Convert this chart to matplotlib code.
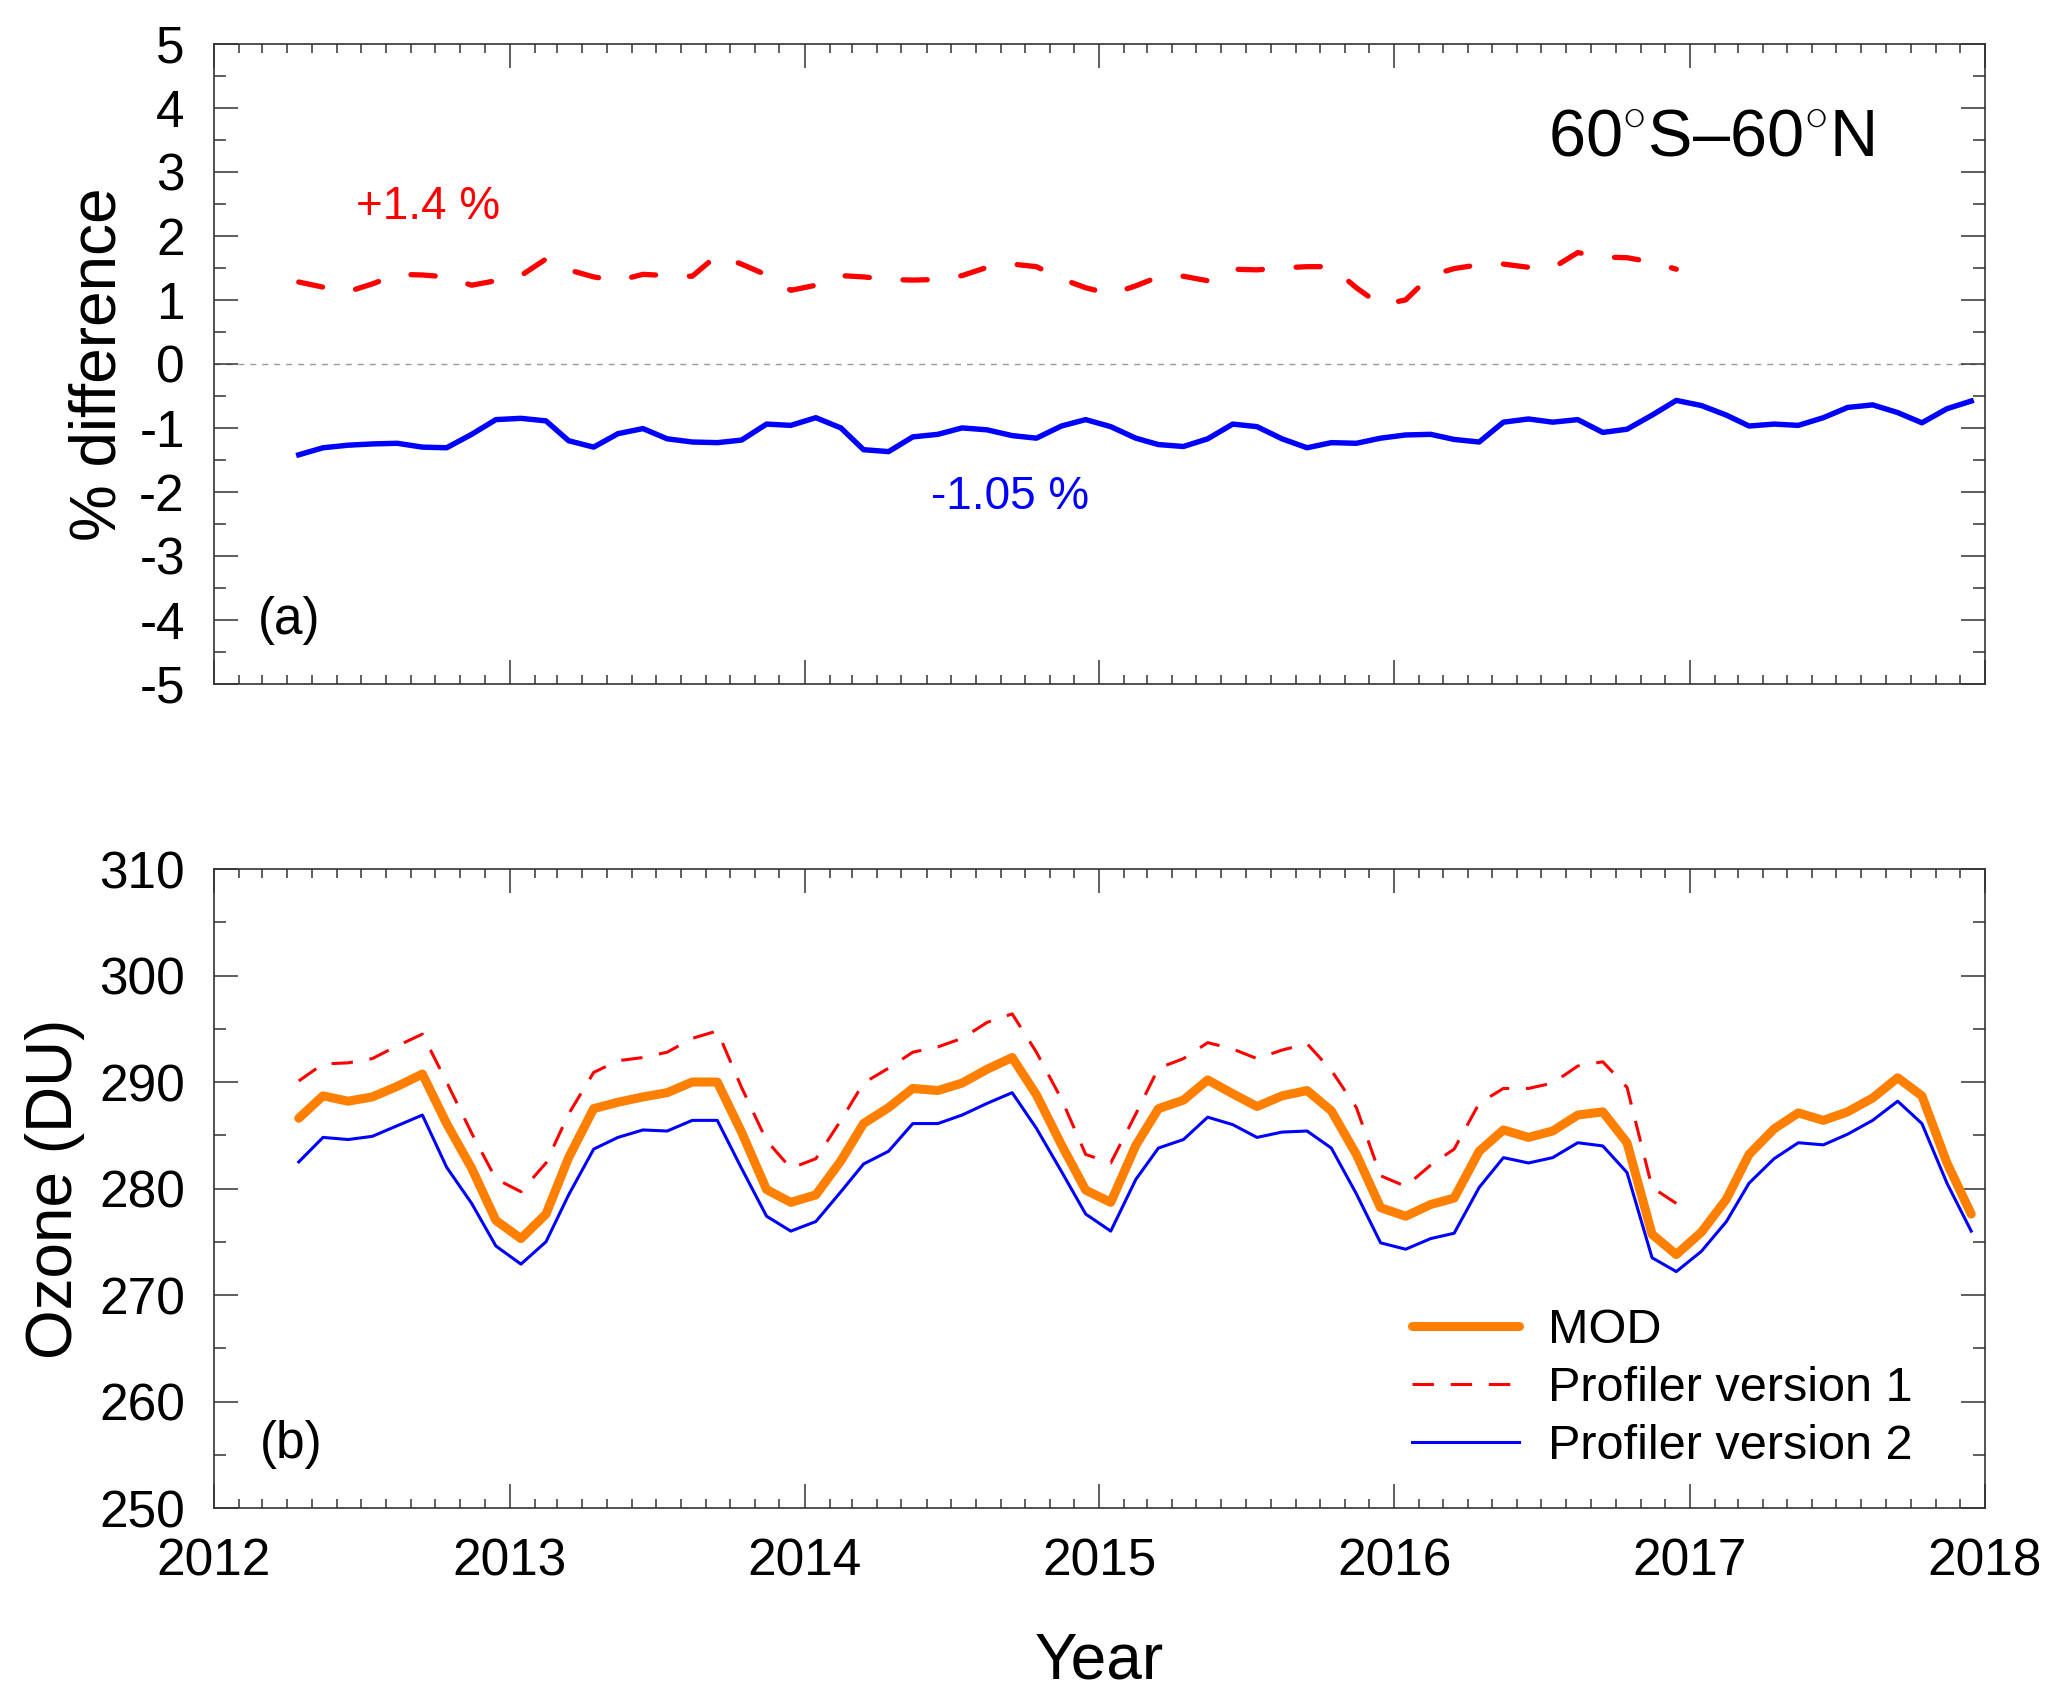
import numpy as np
import pandas as pd
import matplotlib
matplotlib.use('Agg')
import matplotlib.pyplot as plt
import matplotlib.dates as mdates

plt.rcParams['font.family'] = ['Liberation Sans', 'DejaVu Sans']
plt.rcParams['mathtext.fontset'] = 'custom'
plt.rcParams['mathtext.rm'] = 'Liberation Sans'
plt.rcParams['axes.unicode_minus'] = False

# monthly values, April 2012 onwards
pct_v1 = [1.28, 1.20, 1.13, 1.25, 1.40, 1.39, 1.36, 1.23, 1.30, 1.38, 1.64, 1.47,
          1.36, 1.30, 1.40, 1.38, 1.37, 1.70, 1.56, 1.39, 1.15, 1.23, 1.38, 1.36,
          1.32, 1.31, 1.32, 1.38, 1.51, 1.56, 1.52, 1.33, 1.19, 1.09, 1.22, 1.36,
          1.37, 1.30, 1.48, 1.47, 1.50, 1.52, 1.52, 1.19, 0.92, 1.00, 1.38, 1.49,
          1.55, 1.56, 1.51, 1.50, 1.74, 1.67, 1.66, 1.59, 1.48]

pct_v2 = [-1.42, -1.31, -1.27, -1.25, -1.24, -1.30, -1.31, -1.10, -0.87, -0.85, -0.89, -1.20,
          -1.30, -1.09, -1.01, -1.17, -1.22, -1.23, -1.19, -0.94, -0.96, -0.84, -1.00, -1.34,
          -1.37, -1.14, -1.10, -1.00, -1.03, -1.12, -1.16, -0.97, -0.87, -0.98, -1.16, -1.26,
          -1.29, -1.17, -0.94, -0.98, -1.17, -1.31, -1.23, -1.24, -1.16, -1.11, -1.10, -1.18,
          -1.22, -0.91, -0.86, -0.91, -0.87, -1.07, -1.02, -0.80, -0.57, -0.65, -0.80, -0.97,
          -0.94, -0.96, -0.84, -0.68, -0.64, -0.76, -0.92, -0.70, -0.58]

mod = [286.6, 288.7, 288.2, 288.6, 289.6, 290.75, 286.1, 281.9, 277.0, 275.3, 277.6, 282.9,
       287.5, 288.1, 288.6, 289.0, 290.0, 290.0, 285.3, 279.9, 278.7, 279.4, 282.6, 286.1,
       287.6, 289.4, 289.2, 289.9, 291.2, 292.3, 288.8, 284.1, 279.85, 278.7, 284.05, 287.5,
       288.3, 290.2, 288.9, 287.7, 288.7, 289.2, 287.3, 283.2, 278.2, 277.4, 278.5, 279.1,
       283.5, 285.5, 284.8, 285.4, 286.9, 287.2, 284.3, 275.7, 273.8, 275.9, 279.0, 283.2,
       285.6, 287.1, 286.4, 287.2, 288.5, 290.4, 288.7, 282.4, 277.6]

prof_v1 = [290.1, 291.7, 291.8, 292.2, 293.4, 294.5, 290.0, 285.2, 280.9, 279.7, 282.4, 287.0,
           290.9, 292.0, 292.3, 292.8, 294.1, 294.8, 289.5, 284.5, 281.9, 282.8, 286.4, 289.9,
           291.3, 292.8, 293.3, 294.1, 295.6, 296.4, 292.8, 288.4, 283.2, 282.4, 287.0, 291.3,
           292.2, 293.7, 293.1, 292.2, 293.0, 293.6, 291.1, 287.6, 281.2, 280.2, 282.2, 283.7,
           288.0, 289.4, 289.4, 289.9, 291.5, 291.9, 289.5, 280.1, 278.6]

prof_v2 = [282.5, 284.8, 284.6, 284.9, 285.9, 286.9, 282.0, 278.6, 274.6, 272.9, 275.0, 279.4,
           283.7, 284.8, 285.5, 285.4, 286.4, 286.4, 281.9, 277.4, 276.0, 276.9, 279.7, 282.3,
           283.5, 286.1, 286.1, 286.9, 288.0, 289.0, 285.65, 281.6, 277.6, 276.0, 280.85, 283.8,
           284.6, 286.7, 286.0, 284.8, 285.3, 285.4, 283.8, 279.5, 274.9, 274.3, 275.3, 275.8,
           280.1, 282.9, 282.4, 282.9, 284.3, 284.0, 281.5, 273.5, 272.2, 274.1, 276.9, 280.5,
           282.8, 284.3, 284.1, 285.1, 286.4, 288.2, 286.1, 280.5, 276.0]

months = pd.date_range('2012-04-01', '2017-12-01', freq='MS') + pd.Timedelta(days=14)
months_v1 = months[:len(prof_v1)]

RED = '#ff0000'
BLUE = '#0000ff'
ORANGE = '#ff7f00'

fig = plt.figure(figsize=(20.67, 17.03), dpi=100)
ax1 = fig.add_axes([0.1035, 0.5984, 0.8568, 0.3758])
ax2 = fig.add_axes([0.1035, 0.1145, 0.8568, 0.3752])

# (a) percent difference
ax1.axhline(0, color='#999999', lw=1.0, ls=(0, (4.3, 4.3)), zorder=1)
ax1.plot(months_v1, pct_v1, color=RED, lw=3.8, ls=(0, (4.6, 6.4)),
         dash_capstyle='round', zorder=3)
ax1.plot(months, pct_v2, color=BLUE, lw=3.9, solid_joinstyle='round', zorder=3)
ax1.set_ylim(-5, 5)
ax1.set_yticks(np.arange(-5, 6, 1))
ax1.set_yticks(np.arange(-4.5, 5, 1), minor=True)
ax1.set_ylabel('% difference', fontsize=46)
ax1.yaxis.set_label_coords(-0.0483, 0.5)
ax1.text(0.753, 0.825, r'60$^{\circ}$S–60$^{\circ}$N', transform=ax1.transAxes,
         fontsize=48, va='baseline', ha='left')
ax1.text(0.0802, 0.727, '+1.4 %', transform=ax1.transAxes, fontsize=33,
         color=RED, va='baseline')
ax1.text(0.405, 0.273, '-1.05 %', transform=ax1.transAxes, fontsize=33,
         color=BLUE, va='baseline')
ax1.text(0.0248, 0.078, '(a)', transform=ax1.transAxes, fontsize=37, va='baseline')

# (b) ozone columns
ax2.plot(months, mod, color=ORANGE, lw=6.5, solid_capstyle='round',
         solid_joinstyle='round', label='MOD', zorder=3)
ax2.plot(months_v1, prof_v1, color=RED, lw=2.2, ls=(0, (7, 5.5)),
         label='Profiler version 1', zorder=3)
ax2.plot(months, prof_v2, color=BLUE, lw=2.2, label='Profiler version 2', zorder=3)
ax2.set_ylim(250, 310)
ax2.set_yticks(np.arange(250, 311, 10))
ax2.set_yticks(np.arange(255, 310, 10), minor=True)
ax2.set_ylabel('Ozone (DU)', fontsize=46)
ax2.yaxis.set_label_coords(-0.0728, 0.5)
ax2.set_xlabel('Year', fontsize=46)
ax2.xaxis.set_label_coords(0.5, -0.193)
ax2.text(0.026, 0.078, '(b)', transform=ax2.transAxes, fontsize=37, va='baseline')
ax2.legend(loc='upper left', bbox_to_anchor=(0.6765, 0.313), frameon=False,
           fontsize=35, handlelength=2.2, handletextpad=0.6, labelspacing=0.27,
           borderpad=0, borderaxespad=0)

for ax in (ax1, ax2):
    ax.set_xlim(pd.Timestamp('2012-01-01'), pd.Timestamp('2018-01-01'))
    ax.xaxis.set_major_locator(mdates.YearLocator(1))
    ax.xaxis.set_major_formatter(mdates.DateFormatter('%Y'))
    ax.xaxis.set_minor_locator(mdates.MonthLocator())
    ax.tick_params(which='both', direction='in', top=True, right=True,
                   width=1.1, color='#333333', labelsize=37, pad=21)
    ax.tick_params(which='major', length=17)
    ax.tick_params(axis='x', which='minor', length=6.5)
    ax.tick_params(axis='y', which='minor', length=8.6)
    for sp in ax.spines.values():
        sp.set_linewidth(1.2)
        sp.set_color('#333333')

ax1.tick_params(labelbottom=False)

fig.savefig('out.png', dpi=100)
